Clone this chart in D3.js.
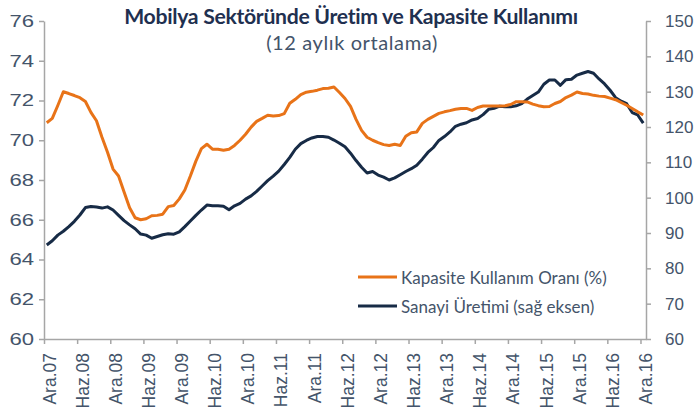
<!DOCTYPE html>
<html>
<head>
<meta charset="utf-8">
<script src="https://cdn.jsdelivr.net/npm/d3@7"></script>
<style>
  html, body { margin: 0; padding: 0; background: #fff; }
  svg { display: block; font-family: Lato, "Open Sans", sans-serif; }
</style>
</head>
<body>
<svg id="chart" width="697" height="407"></svg>
<script>
// Monthly series, Ara.07 (Dec 2007) through Ara.16 (Dec 2016), 12-month averages
const capacityUtil = [
  70.88, 71.10, 71.75, 72.44, 72.35, 72.25, 72.14, 71.95, 71.40, 70.98,
  70.15, 69.40, 68.55, 68.20, 67.40, 66.60, 66.10, 66.00, 66.05, 66.20,
  66.22, 66.28, 66.66, 66.72, 67.05, 67.50, 68.20, 68.95, 69.58, 69.80,
  69.55, 69.55, 69.50, 69.55, 69.74, 70.00, 70.30, 70.66, 70.95, 71.10,
  71.26, 71.22, 71.24, 71.34, 71.86, 72.06, 72.30, 72.42, 72.46, 72.52,
  72.60, 72.62, 72.68, 72.40, 72.10, 71.70, 71.05, 70.50, 70.15, 70.00,
  69.88, 69.78, 69.74, 69.80, 69.74, 70.20, 70.38, 70.42, 70.85, 71.05,
  71.20, 71.35, 71.43, 71.49, 71.56, 71.60, 71.60, 71.50, 71.65, 71.72,
  71.72, 71.72, 71.72, 71.74, 71.80, 71.94, 71.94, 71.93, 71.82, 71.74,
  71.69, 71.70, 71.85, 71.95, 72.15, 72.27, 72.43, 72.35, 72.33, 72.26,
  72.22, 72.20, 72.12, 72.04, 71.90, 71.76, 71.60, 71.43, 71.27
];

const industrialProd = [
  86.6, 87.8, 89.4, 90.5, 91.8, 93.3, 95.1, 97.2, 97.5, 97.35,
  97.05, 97.4, 96.5, 95.0, 93.5, 92.3, 91.2, 89.7, 89.4, 88.5,
  89.0, 89.5, 89.8, 89.65, 90.3, 91.8, 93.4, 95.0, 96.5, 97.9,
  97.7, 97.7, 97.6, 96.6, 97.7, 98.4, 99.6, 100.5, 101.8, 103.3,
  104.8, 106.1, 107.5, 109.4, 111.4, 113.7, 115.3, 116.2, 116.9, 117.3,
  117.3, 117.1, 116.3, 115.4, 114.4, 112.6, 110.5, 108.6, 107.0, 107.4,
  106.4, 105.8, 105.0, 105.6, 106.5, 107.4, 108.2, 109.2, 110.9, 112.8,
  114.2, 116.2, 117.3, 118.6, 120.2, 120.8, 121.2, 122.0, 122.4, 123.5,
  125.0, 125.3, 125.9, 125.7, 125.7, 126.0, 126.6, 127.9, 128.9, 129.9,
  132.1, 133.3, 133.3, 131.8, 133.4, 133.5, 134.7, 135.2, 135.7, 135.2,
  133.6, 132.2, 130.4, 128.3, 127.3, 126.6, 124.1, 123.4, 121.1
];

const xTickLabels = [
  "Ara.07", "Haz.08", "Ara.08", "Haz.09", "Ara.09", "Haz.10", "Ara.10",
  "Haz.11", "Ara.11", "Haz.12", "Ara.12", "Haz.13", "Ara.13", "Haz.14",
  "Ara.14", "Haz.15", "Ara.15", "Haz.16", "Ara.16"
];
const leftTicks = [60, 62, 64, 66, 68, 70, 72, 74, 76];
const rightTicks = [60, 70, 80, 90, 100, 110, 120, 130, 140, 150];

const seriesNames = ["Kapasite Kullanım Oranı (%)", "Sanayi Üretimi (sağ eksen)"];
const titleText = "Mobilya Sektöründe Üretim ve Kapasite Kullanımı";
const subtitleText = "(12 aylık ortalama)";

const ORANGE = "#E87318";
const NAVY = "#172B46";
const AXIS = "#A6A6A6";
const LABEL = "#44546A";

const svg = d3.select("#chart");
const plot = { left: 44, right: 646, top: 21, bottom: 339 };

const n = capacityUtil.length;
const x = d3.scaleLinear().domain([0, n]).range([plot.left, plot.right]);
const yL = d3.scaleLinear().domain([60, 76]).range([plot.bottom, plot.top]);
const yR = d3.scaleLinear().domain([60, 150]).range([plot.bottom, plot.top]);

// Title
svg.append("text")
  .attr("x", 351).attr("y", 24)
  .attr("text-anchor", "middle")
  .attr("fill", "#1F3050")
  .attr("font-size", 21.2)
  .attr("font-weight", 700)
  .attr("letter-spacing", -0.3)
  .text(titleText);
svg.append("text")
  .attr("x", 352).attr("y", 50)
  .attr("text-anchor", "middle")
  .attr("fill", LABEL)
  .attr("font-size", 20)
  .attr("letter-spacing", 0.6)
  .text(subtitleText);

function styleAxis(g) {
  g.select(".domain").attr("stroke", AXIS).attr("stroke-width", 1.5);
  g.selectAll(".tick line").attr("stroke", AXIS).attr("stroke-width", 1.5);
  g.selectAll(".tick text").attr("fill", LABEL).attr("font-size", 17);
}

// Left axis
const gL = svg.append("g")
  .attr("transform", `translate(${plot.left},0)`)
  .call(d3.axisLeft(yL).tickValues(leftTicks).tickSize(5).tickSizeOuter(0).tickPadding(10));
styleAxis(gL);
const sx = 1.3;
gL.selectAll(".tick text")
  .attr("x", -10 / sx)
  .attr("transform", `scale(${sx},1)`);

// Right axis
const gR = svg.append("g")
  .attr("transform", `translate(${plot.right},0)`)
  .call(d3.axisRight(yR).tickValues(rightTicks).tickSize(5).tickSizeOuter(0).tickPadding(14));
styleAxis(gR);

// Bottom axis: a tick every six months
const xTickPos = xTickLabels.map((_, k) => k * 6);
const gB = svg.append("g")
  .attr("transform", `translate(0,${plot.bottom})`)
  .call(d3.axisBottom(x).tickValues(xTickPos).tickSize(5).tickSizeOuter(0)
    .tickFormat((d, k) => xTickLabels[k]));
styleAxis(gB);
gB.selectAll(".tick text")
  .attr("text-anchor", "end")
  .attr("dy", null)
  .attr("y", 0)
  .attr("font-size", 17.5)
  .attr("transform", "translate(11,14) rotate(-90)");

// Lines
const lineL = d3.line().x((d, i) => x(i + 0.5)).y(d => yL(d)).curve(d3.curveLinear);
const lineR = d3.line().x((d, i) => x(i + 0.5)).y(d => yR(d)).curve(d3.curveLinear);

svg.append("path")
  .datum(industrialProd)
  .attr("d", lineR)
  .attr("fill", "none")
  .attr("stroke", NAVY)
  .attr("stroke-width", 3)
  .attr("stroke-linejoin", "round");

svg.append("path")
  .datum(capacityUtil)
  .attr("d", lineL)
  .attr("fill", "none")
  .attr("stroke", ORANGE)
  .attr("stroke-width", 3)
  .attr("stroke-linejoin", "round");

// Legend
const legend = svg.append("g");
const legendItems = [
  { name: seriesNames[0], color: ORANGE, y: 277 },
  { name: seriesNames[1], color: NAVY, y: 306 }
];
legendItems.forEach(it => {
  legend.append("line")
    .attr("x1", 358).attr("x2", 397)
    .attr("y1", it.y).attr("y2", it.y)
    .attr("stroke", it.color).attr("stroke-width", 3);
  legend.append("text")
    .attr("x", 401).attr("y", it.y + 7)
    .attr("fill", LABEL)
    .attr("font-size", 17)
    .text(it.name);
});
</script>
</body>
</html>
